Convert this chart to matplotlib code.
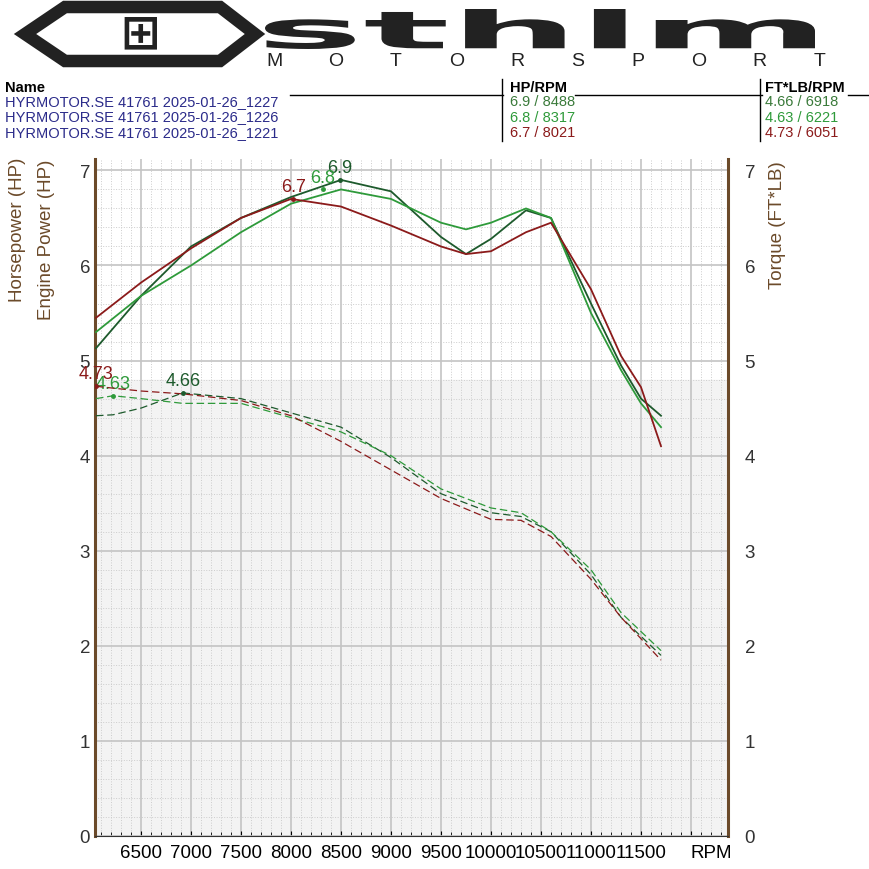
import numpy as np
import matplotlib
matplotlib.use("Agg")
import matplotlib.pyplot as plt
from matplotlib.ticker import MultipleLocator
from matplotlib.patches import Polygon, PathPatch
from matplotlib.textpath import TextPath
from matplotlib.font_manager import FontProperties
from matplotlib.transforms import Affine2D

plt.rcParams["font.family"] = ["Liberation Sans", "DejaVu Sans"]

# ---- data ----
RUNS = ["HYRMOTOR.SE 41761 2025-01-26_1227",
        "HYRMOTOR.SE 41761 2025-01-26_1226",
        "HYRMOTOR.SE 41761 2025-01-26_1221"]
COLORS = ["#1d5a2c", "#2e9a3a", "#8b1a1a"]
HP_PEAK = [(6.9, 8488), (6.8, 8317), (6.7, 8021)]
TQ_PEAK = [(4.66, 6918), (4.63, 6221), (4.73, 6051)]

rpm_hp = [6050, 6500, 7000, 7500, 8000, 8500, 9000, 9500, 9750, 10000,
          10350, 10600, 11000, 11300, 11500, 11700]
hp_1227 = [5.13, 5.68, 6.2, 6.5, 6.72, 6.9, 6.78, 6.3, 6.12, 6.28,
           6.58, 6.5, 5.6, 4.95, 4.6, 4.42]
hp_1226 = [5.3, 5.68, 6.0, 6.35, 6.65, 6.8, 6.7, 6.45, 6.38, 6.45,
           6.6, 6.5, 5.5, 4.9, 4.55, 4.3]
hp_1221 = [5.45, 5.82, 6.18, 6.5, 6.7, 6.62, 6.42, 6.2, 6.12, 6.15,
           6.35, 6.45, 5.75, 5.05, 4.72, 4.1]

rpm_tq = [6050, 6221, 6500, 6918, 7500, 8000, 8500, 9000, 9500, 10000,
          10300, 10600, 11000, 11300, 11700]
tq_1227 = [4.42, 4.43, 4.5, 4.66, 4.6, 4.45, 4.3, 3.98, 3.6, 3.4,
           3.36, 3.2, 2.75, 2.3, 1.9]
tq_1226 = [4.6, 4.63, 4.6, 4.55, 4.55, 4.4, 4.25, 4.0, 3.65, 3.45,
           3.4, 3.2, 2.8, 2.35, 1.95]
tq_1221 = [4.73, 4.71, 4.68, 4.65, 4.58, 4.42, 4.15, 3.85, 3.55, 3.33,
           3.32, 3.15, 2.7, 2.3, 1.85]

HP = [hp_1227, hp_1226, hp_1221]
TQ = [tq_1227, tq_1226, tq_1221]
XTICKS = list(range(6500, 12001, 500))

BROWN = "#6b4a2a"
W = 870

fig = plt.figure(figsize=(8.7, 8.7), dpi=100)


def fy(py):
    return 1 - py / W


# ---- logo (pixel coordinates, top-left origin) ----
def logo_text(s, x, y_top, w, h, weight):
    tp = TextPath((0, 0), s, size=100, prop=FontProperties(family="DejaVu Sans", weight=weight))
    bb = tp.get_extents()
    tr = (Affine2D().translate(-bb.x0, -bb.y0)
          .scale(w / bb.width, h / bb.height)
          .translate(x, W - y_top - h))
    fig.patches.append(PathPatch(tr.transform_path(tp), fc="#222222", ec="none",
                                 transform=None))


hexo = Polygon([[25 / W, fy(35)], [65 / W, fy(8)], [220 / W, fy(8)],
                [255 / W, fy(35)], [220 / W, fy(62)], [65 / W, fy(62)]],
               closed=True, transform=fig.transFigure, fc="none",
               ec="#222222", lw=9)
fig.patches.append(hexo)
fig.text(140 / W, fy(35), "⊞", fontsize=34, ha="center", va="center",
         color="#222222", fontweight="bold", family="DejaVu Sans")
logo_text("sthlm", 265, 10, 550, 40, "heavy")
letters = "MOTORSPORT"
for k, ch in enumerate(letters):
    fig.text((275 + k * 60.5) / W, fy(62), ch, fontsize=14, color="#222222",
             ha="center", va="center")

# ---- header table ----
fs = 10.5
fig.text(5 / W, fy(88), "Name", fontsize=fs, fontweight="bold", va="center")
fig.text(510 / W, fy(88), "HP/RPM", fontsize=fs, fontweight="bold", va="center")
fig.text(765 / W, fy(88), "FT*LB/RPM", fontsize=fs, fontweight="bold", va="center")
for x0, x1 in [(290, 503), (575, 762), (848, 870)]:
    fig.add_artist(plt.Line2D([x0 / W, x1 / W], [fy(96)] * 2,
                              color="black", lw=1))
for xv in (502, 760):
    fig.add_artist(plt.Line2D([xv / W] * 2, [fy(80), fy(142)],
                              color="black", lw=1))
for i, name in enumerate(RUNS):
    y = fy(102 + 15.5 * i)
    c = COLORS[i] if i else "#3a7a3a"
    fig.text(5 / W, y, name, fontsize=fs, color="#2b2b8a", va="center")
    fig.text(510 / W, y, f"{HP_PEAK[i][0]} / {HP_PEAK[i][1]}",
             fontsize=fs, color=c, va="center")
    fig.text(765 / W, y, f"{TQ_PEAK[i][0]} / {TQ_PEAK[i][1]}",
             fontsize=fs, color=c, va="center")

# ---- chart ----
ax = fig.add_axes([95 / W, 33 / W, 633 / W, 677 / W])
ax.set_xlim(6040, 12370)
ax.set_ylim(0, 7.12)
ax.axhspan(0, 4.8, color="#f3f3f3", zorder=0)
ax.xaxis.set_major_locator(MultipleLocator(500))
ax.xaxis.set_minor_locator(MultipleLocator(100))
ax.yaxis.set_major_locator(MultipleLocator(1))
ax.yaxis.set_minor_locator(MultipleLocator(0.2))
ax.grid(which="major", color="#c4c4c4", lw=1.2)
ax.grid(which="minor", color="#cccccc", lw=0.7, ls=":")
ax.set_axisbelow(True)

for i in range(3):
    ax.plot(rpm_hp, HP[i], color=COLORS[i], lw=1.3, zorder=3)
    ax.plot(rpm_tq, TQ[i], color=COLORS[i], lw=0.9, ls=(0, (6, 3)), zorder=3)
    hv, hr = HP_PEAK[i]
    ax.plot(hr, hv, "o", ms=2.5, color=COLORS[i], zorder=4)
    ax.text(hr, hv + 0.04, f"{hv}", color=COLORS[i], fontsize=13,
            ha="center", va="bottom")
    tv, tr = TQ_PEAK[i]
    ax.plot(tr, tv, "o", ms=2.5, color=COLORS[i], zorder=4)
    ax.text(tr, tv + 0.04, f"{tv}", color=COLORS[i], fontsize=13,
            ha="center", va="bottom", clip_on=False)

ax.set_xticks(XTICKS)
ax.set_xticklabels([str(t) for t in XTICKS[:-1]] + [""])
ax.tick_params(axis="x", which="both", direction="in", labelsize=13.5, pad=6)
ax.tick_params(axis="x", which="minor", length=3)
ax.tick_params(axis="y", which="both", length=0, labelsize=13.5, colors="#333333")
ax.text(12200, -0.08, "RPM", fontsize=13.5, ha="center", va="top")

for s in ("left", "right"):
    ax.spines[s].set_color(BROWN)
    ax.spines[s].set_linewidth(2.2)
ax.spines["top"].set_visible(False)
ax.spines["bottom"].set_color("#333333")

ax2 = ax.twinx()
ax2.set_ylim(ax.get_ylim())
ax2.yaxis.set_major_locator(MultipleLocator(1))
ax2.tick_params(axis="y", length=0, labelsize=13.5, pad=12, colors="#333333")
for s in ax2.spines.values():
    s.set_visible(False)

fig.text(18 / W, fy(230), "Horsepower (HP)", rotation=90, fontsize=13.5,
         color=BROWN, ha="center", va="center")
fig.text(47 / W, fy(240), "Engine Power (HP)", rotation=90, fontsize=13.5,
         color=BROWN, ha="center", va="center")
fig.text(778 / W, fy(225), "Torque (FT*LB)", rotation=90, fontsize=13.5,
         color=BROWN, ha="center", va="center")

fig.savefig("out.png", dpi=100)
